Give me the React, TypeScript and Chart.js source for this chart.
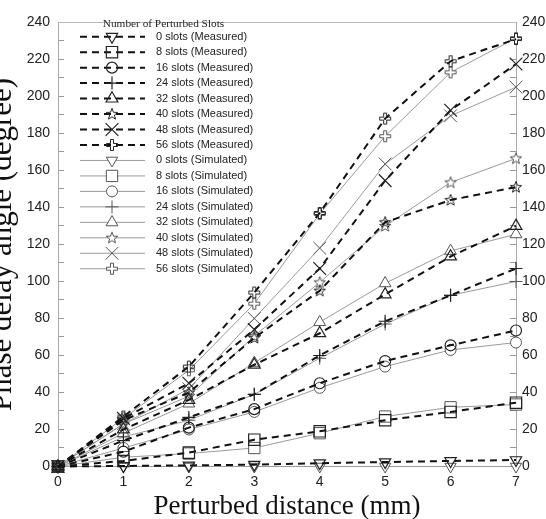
import React, { useEffect, useRef } from 'react';
import { Chart, registerables } from 'chart.js';
import { drawPoint } from 'chart.js/helpers';

Chart.register(...registerables);

// Perturbed distance (mm)
const distances = [0, 1, 2, 3, 4, 5, 6, 7];
const slotCounts = [0, 8, 16, 24, 32, 40, 48, 56];

// Phase delay angle (degree), measured
const measured0 = [0, 0.3, 0.6, 1, 1.8, 2.4, 3, 3.5];
const measured8 = [0, 3, 7.5, 14.5, 19, 25, 29.5, 34.5];
const measured16 = [0, 8, 21, 31, 45, 57, 65.5, 73.5];
const measured24 = [0, 14, 26.5, 39, 60, 78.5, 92.5, 107];
const measured32 = [0, 20, 36, 55, 72, 93, 113.5, 130];
const measured40 = [0, 25, 40, 69.5, 95, 132, 144, 151];
const measured48 = [0, 26, 45, 74, 107, 154.5, 192.5, 217.5];
const measured56 = [0, 27, 54, 94, 137, 188, 219, 231];

// Phase delay angle (degree), simulated
const simulated0 = [0, 0, 0, 0, 0, 0, 0, 0];
const simulated8 = [0, 5, 7, 10, 18, 27, 32, 33.5];
const simulated16 = [0, 10, 20, 29.5, 42.5, 54, 63, 67];
const simulated24 = [0, 16, 25, 39, 58.5, 77, 92.5, 100];
const simulated32 = [0, 18, 34, 56, 78, 99, 116.5, 125.5];
const simulated40 = [0, 23, 38, 70.5, 99.5, 130, 153.5, 166.5];
const simulated48 = [0, 23, 42, 80, 118, 163.5, 189.5, 205];
const simulated56 = [0, 26, 52, 88, 136.5, 178.5, 213, 231.5];

const measuredSeries = [measured0, measured8, measured16, measured24, measured32, measured40, measured48, measured56];
const simulatedSeries = [simulated0, simulated8, simulated16, simulated24, simulated32, simulated40, simulated48, simulated56];

const legendTitle = 'Number of Perturbed Slots';
const xTitle = 'Perturbed distance (mm)';
const yTitle = 'Phase delay angle (degree)';

const SANS = '"Liberation Sans", Arial, sans-serif';
const SERIF = '"Liberation Serif", "Times New Roman", serif';

function makeMarkerCanvas(kind: 'star' | 'plus', stroke: string, fill: string): HTMLCanvasElement {
  const c = document.createElement('canvas');
  c.width = 14;
  c.height = 14;
  const g = c.getContext('2d')!;
  g.lineWidth = 1;
  g.strokeStyle = stroke;
  g.fillStyle = fill;
  g.beginPath();
  if (kind === 'star') {
    const cx = 7, cy = 7.3, ro = 6, ri = 2.5;
    for (let i = 0; i < 10; i++) {
      const r = i % 2 === 0 ? ro : ri;
      const a = -Math.PI / 2 + (i * Math.PI) / 5;
      const px = cx + r * Math.cos(a);
      const py = cy + r * Math.sin(a);
      if (i === 0) g.moveTo(px, py);
      else g.lineTo(px, py);
    }
    g.closePath();
  } else {
    const a = 1.5, m = 7;
    const pts = [
      [m - a, 1.5], [m + a, 1.5], [m + a, m - a], [12.5, m - a], [12.5, m + a], [m + a, m + a],
      [m + a, 12.5], [m - a, 12.5], [m - a, m + a], [1.5, m + a], [1.5, m - a], [m - a, m - a],
    ];
    pts.forEach(([px, py], i) => (i === 0 ? g.moveTo(px, py) : g.lineTo(px, py)));
    g.closePath();
  }
  g.fill();
  g.stroke();
  return c;
}

type MarkerSpec = { style: any; radius: number; rotation: number };

function markersFor(stroke: string, fill: string): MarkerSpec[] {
  return [
    { style: 'triangle', radius: 6.5, rotation: 180 },
    { style: 'rect', radius: 8, rotation: 0 },
    { style: 'circle', radius: 5.5, rotation: 0 },
    { style: 'cross', radius: 6.5, rotation: 0 },
    { style: 'triangle', radius: 6.8, rotation: 0 },
    { style: makeMarkerCanvas('star', stroke, fill), radius: 6, rotation: 0 },
    { style: 'crossRot', radius: 9, rotation: 0 },
    { style: makeMarkerCanvas('plus', stroke, fill), radius: 6, rotation: 0 },
  ];
}

const slotLegend = {
  id: 'slotLegend',
  afterDraw(chart: any) {
    const ctx: CanvasRenderingContext2D = chart.ctx;
    ctx.save();
    ctx.fillStyle = '#222';
    ctx.font = `11.3px ${SERIF}`;
    ctx.textAlign = 'center';
    ctx.textBaseline = 'middle';
    ctx.fillText(legendTitle, 163.5, 24);
    chart.data.datasets.forEach((ds: any, i: number) => {
      const y = 36.7 + i * 15.47;
      ctx.strokeStyle = ds.borderColor;
      ctx.lineWidth = ds.borderWidth;
      ctx.setLineDash(ds.borderDash || []);
      ctx.beginPath();
      ctx.moveTo(80, y);
      ctx.lineTo(145, y);
      ctx.stroke();
      ctx.setLineDash([]);
      ctx.fillStyle = ds.pointBackgroundColor;
      ctx.strokeStyle = ds.pointBorderColor;
      ctx.lineWidth = ds.pointBorderWidth;
      drawPoint(ctx, {
        pointStyle: ds.pointStyle,
        rotation: ds.pointRotation,
        radius: ds.pointRadius,
        borderWidth: ds.pointBorderWidth,
      } as any, 112, y);
      ctx.fillStyle = '#222';
      ctx.font = `11px ${SANS}`;
      ctx.textAlign = 'left';
      ctx.fillText(ds.label, 156, y);
    });
    ctx.restore();
  },
};

export default function App() {
  const ref = useRef<HTMLCanvasElement | null>(null);

  useEffect(() => {
    const canvas = ref.current;
    if (!canvas) return;

    const mMarkers = markersFor('#222', 'rgba(0,0,0,0)');
    const sMarkers = markersFor('#555', '#ffffff');

    const measuredSets = measuredSeries.map((vals, i) => ({
      label: `${slotCounts[i]} slots (Measured)`,
      data: vals.map((v, j) => ({ x: distances[j], y: v })),
      borderColor: '#111',
      borderWidth: 2,
      borderDash: [7, 5],
      pointStyle: mMarkers[i].style,
      pointRadius: mMarkers[i].radius,
      pointRotation: mMarkers[i].rotation,
      pointBorderColor: '#222',
      pointBackgroundColor: 'rgba(0,0,0,0)',
      pointBorderWidth: 1.2,
      clip: false as const,
    }));
    const simulatedSets = simulatedSeries.map((vals, i) => ({
      label: `${slotCounts[i]} slots (Simulated)`,
      data: vals.map((v, j) => ({ x: distances[j], y: v })),
      borderColor: '#9a9a9a',
      borderWidth: 1,
      borderDash: [] as number[],
      pointStyle: sMarkers[i].style,
      pointRadius: sMarkers[i].radius,
      pointRotation: sMarkers[i].rotation,
      pointBorderColor: '#555',
      pointBackgroundColor: '#ffffff',
      pointBorderWidth: 1,
      clip: false as const,
    }));

    const tickFont = { family: SANS, size: 14 };
    const yTickCb = (v: any) => (Number(v) % 20 === 0 ? String(v) : '');

    const chart = new Chart(canvas, {
      type: 'line',
      data: { datasets: [...measuredSets, ...simulatedSets] as any },
      options: {
        responsive: false,
        animation: false,
        layout: { padding: 0 },
        plugins: { legend: { display: false }, tooltip: { enabled: false } },
        scales: {
          x: {
            type: 'linear',
            position: 'bottom',
            min: 0,
            max: 7,
            afterFit: (s: any) => { s.height = 52.5; },
            ticks: { stepSize: 1, color: '#222', font: tickFont, padding: 7.6, autoSkip: false },
            grid: { display: true, drawOnChartArea: false, drawTicks: false },
            border: { color: '#aaa', width: 1 },
            title: {
              display: true,
              text: xTitle,
              color: '#111',
              font: { family: SERIF, size: 27, lineHeight: 1.2 },
              padding: { top: 0, bottom: -3.7 },
            },
          },
          xTop: {
            type: 'linear',
            position: 'top',
            min: 0,
            max: 7,
            afterFit: (s: any) => { s.height = 12.5; },
            ticks: { display: false },
            grid: { display: false, drawTicks: false },
            border: { color: '#bbb', width: 1 },
          },
          y: {
            type: 'linear',
            position: 'left',
            min: 0,
            max: 240,
            afterFit: (s: any) => { s.width = 58; },
            ticks: { stepSize: 10, callback: yTickCb, color: '#222', font: tickFont, padding: 14, autoSkip: false },
            grid: { display: true, drawOnChartArea: false, drawTicks: true, tickLength: -6, color: '#999' },
            border: { color: '#aaa', width: 1 },
            title: {
              display: true,
              text: yTitle,
              color: '#111',
              font: { family: SERIF, size: 31, lineHeight: 1.2 },
              padding: { top: -15.5, bottom: 0 },
            },
          },
          yRight: {
            type: 'linear',
            position: 'right',
            min: 0,
            max: 240,
            afterFit: (s: any) => { s.width = 30; },
            ticks: { stepSize: 10, callback: yTickCb, color: '#222', font: tickFont, padding: 12, autoSkip: false },
            grid: { display: true, drawOnChartArea: false, drawTicks: true, tickLength: -6, color: '#999' },
            border: { color: '#aaa', width: 1 },
          },
        },
      } as any,
      plugins: [slotLegend],
    });

    return () => chart.destroy();
  }, []);

  return (
    <canvas
      ref={ref}
      width={546}
      height={519}
      style={{ position: 'fixed', left: 0, top: 0, display: 'block', background: '#fff' }}
    />
  );
}
